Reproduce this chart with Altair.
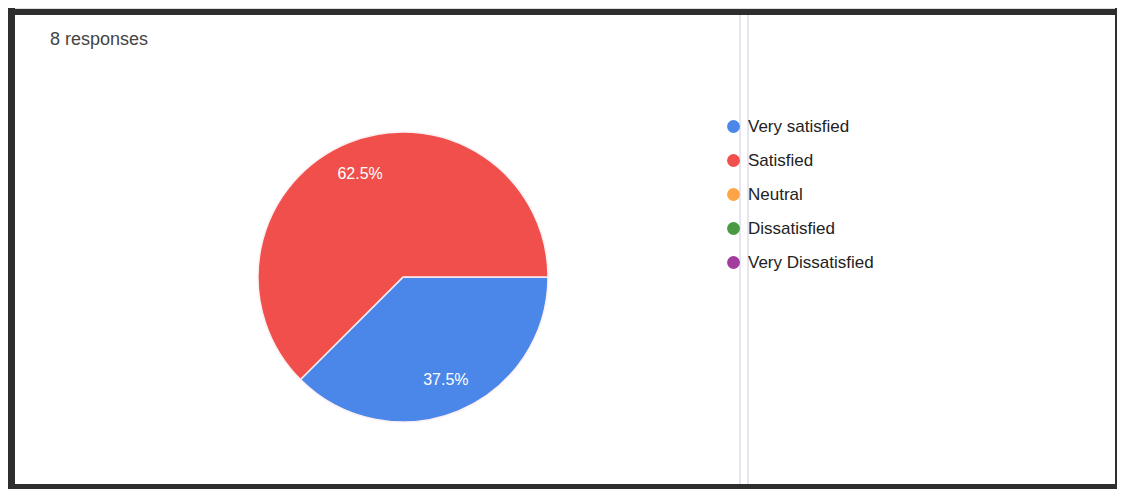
import math
import altair as alt
import pandas as pd

# ---- data ----
responses = ["Very satisfied", "Satisfied", "Neutral", "Dissatisfied", "Very Dissatisfied"]
counts = [3, 5, 0, 0, 0]
colors = ["#4A87E8", "#F04F4B", "#FFA446", "#4A9A43", "#A23D9E"]
title_text = "8 responses"

total = sum(counts)
df = pd.DataFrame({
    "Response": responses,
    "Count": counts,
    "Order": list(range(len(responses))),
    "Label": [f"{c / total * 100:.1f}%" for c in counts],
})

FONT = "Liberation Sans"
W, H = 1109, 481
CX, CY = 395, 269
R = 145

theta_scale = alt.Scale(range=[math.pi / 2, math.pi / 2 + 2 * math.pi])

base = alt.Chart(df).transform_filter("datum.Count > 0")

arcs = base.mark_arc(outerRadius=R, stroke="#fbeff2", strokeWidth=1.5).encode(
    theta=alt.Theta("Count:Q", stack=True, scale=theta_scale),
    color=alt.Color(
        "Response:N",
        sort=responses,
        scale=alt.Scale(domain=responses, range=colors),
        legend=alt.Legend(
            title=None,
            orient="none",
            legendX=717,
            legendY=110,
            symbolType="circle",
            symbolSize=165,
            symbolStrokeWidth=0,
            labelFont=FONT,
            labelFontSize=17,
            labelColor="#222222",
            labelOffset=6,
            rowPadding=16,
        ),
    ),
    order=alt.Order("Order:Q"),
    x=alt.value(CX),
    y=alt.value(CY),
)

labels = base.mark_text(radius=112, fill="#ffffff", font=FONT, fontSize=16).encode(
    theta=alt.Theta("Count:Q", stack=True, scale=theta_scale),
    text="Label:N",
    order=alt.Order("Order:Q"),
    x=alt.value(CX),
    y=alt.value(CY),
)

dummy = pd.DataFrame({"d": [0]})

def rule(x, x2, y, y2, color, width):
    return alt.Chart(dummy).mark_rule(color=color, strokeWidth=width).encode(
        x=alt.value(x), x2=alt.value(x2), y=alt.value(y), y2=alt.value(y2)
    )

frame_color = "#2e2e2e"
frame = [
    rule(3.5, 3.5, 0, H, frame_color, 7),          # left
    rule(0, W, 4, 4, frame_color, 6),              # top
    rule(0, W, H - 2.5, H - 2.5, frame_color, 5),  # bottom
    rule(W - 1, W - 1, 0, H, frame_color, 2),      # right
]
vlines = [
    rule(732, 732, 0, H, "#dcdcec", 1.5),
    rule(740, 740, 0, H, "#dcdcec", 1.5),
]

title = alt.Chart(dummy).mark_text(
    align="left", baseline="middle", font=FONT, fontSize=18, color="#444444"
).encode(x=alt.value(42), y=alt.value(32), text=alt.value(title_text))

chart = alt.layer(*vlines, arcs, labels, title, *frame).properties(
    width=W, height=H, padding=0, autosize=alt.AutoSizeParams(type="none")
).configure_view(stroke=None).configure(background="#ffffff")

chart.save("out.html", embed_options={"renderer": "svg", "actions": False})
